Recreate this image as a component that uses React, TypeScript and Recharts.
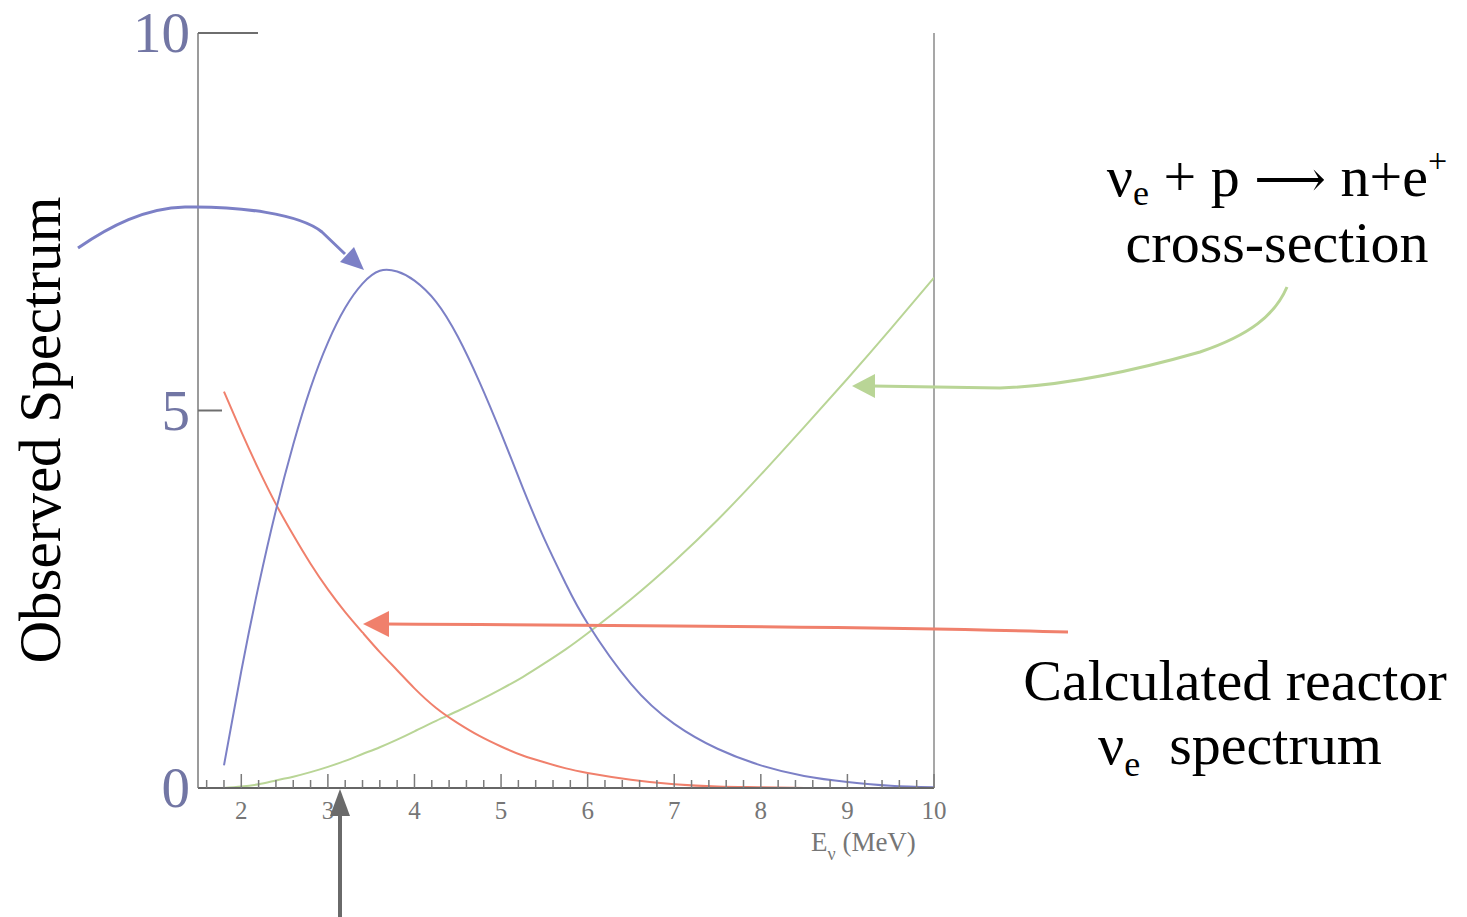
import React from "react"
import { CartesianGrid, Line, LineChart, ReferenceLine, XAxis, YAxis } from "recharts"

// energy grid (MeV) the curves are read at
const energy = [1.8, 2.0, 2.2, 2.4, 2.6, 2.8, 3.0, 3.2, 3.4, 3.6, 3.8, 4.0, 4.25, 4.5, 4.75, 5.0, 5.25, 5.5, 5.75, 6.0, 6.5, 7.0, 7.5, 8.0, 8.5, 9.0, 9.5, 10.0]

// observed spectrum (blue)
const observed = [0.3, 1.55, 2.68, 3.68, 4.55, 5.3, 5.9, 6.36, 6.68, 6.85, 6.84, 6.72, 6.44, 5.98, 5.38, 4.7, 3.98, 3.3, 2.7, 2.18, 1.38, 0.85, 0.52, 0.3, 0.16, 0.08, 0.03, 0.01]

// calculated reactor flux (red)
const reactorFlux = [5.25, 4.72, 4.22, 3.76, 3.35, 2.97, 2.63, 2.33, 2.06, 1.8, 1.56, 1.32, 1.06, 0.86, 0.69, 0.55, 0.43, 0.34, 0.26, 0.2, 0.11, 0.05, 0.02, 0.01, 0, 0, 0, 0]

// inverse beta decay cross-section (green)
const crossSection = [0, 0.02, 0.05, 0.1, 0.15, 0.21, 0.28, 0.36, 0.45, 0.54, 0.64, 0.75, 0.89, 1.02, 1.16, 1.31, 1.47, 1.65, 1.84, 2.05, 2.5, 3.0, 3.55, 4.15, 4.78, 5.42, 6.08, 6.76]

const xTicks = [1.6, 1.8, 2, 2.2, 2.4, 2.6, 2.8, 3, 3.2, 3.4, 3.6, 3.8, 4, 4.2, 4.4, 4.6, 4.8, 5, 5.2, 5.4, 5.6, 5.8, 6, 6.2, 6.4, 6.6, 6.8, 7, 7.2, 7.4, 7.6, 7.8, 8, 8.2, 8.4, 8.6, 8.8, 9, 9.2, 9.4, 9.6, 9.8, 10]
const yTicks = [0, 5, 10]

const data = energy.map((e, i) => ({
  e,
  observed: observed[i],
  reactor: reactorFlux[i],
  xsec: crossSection[i],
}))

const SERIF = '"Liberation Serif", "Times New Roman", "DejaVu Serif", serif'
const PLOT_LEFT = 198
const AXIS_Y = 788

const BLUE = "#7c80c6"
const RED = "#f0806c"
const GREEN = "#b9d596"

function XTick(props: any) {
  const { x, payload } = props
  const v = payload.value
  const major = Math.abs(v - Math.round(v)) < 1e-6
  return (
    <g>
      <line x1={x} x2={x} y1={AXIS_Y} y2={AXIS_Y - (major ? 14 : 8)} stroke="#7a7a7a" strokeWidth={1.5} />
      {major && (
        <text x={x} y={AXIS_Y + 31} textAnchor="middle" fontFamily={SERIF} fontSize={25} fill="#767676">
          {v}
        </text>
      )}
    </g>
  )
}

function YTick(props: any) {
  const { y, payload } = props
  const v = payload.value
  const len = v === 10 ? 60 : v === 5 ? 24 : 0
  return (
    <g>
      {len > 0 && <line x1={PLOT_LEFT} x2={PLOT_LEFT + len} y1={y} y2={y} stroke="#6e6e6e" strokeWidth={2} />}
      <text x={190} y={y + 19} textAnchor="end" fontFamily={SERIF} fontSize={57} fill="#7276a4">
        {v}
      </text>
    </g>
  )
}

function Annotations() {
  return (
    <svg width={1467} height={917} style={{ position: "absolute", left: 0, top: 0, pointerEvents: "none" }}>
      {/* blue arrow to the observed peak */}
      <path d="M 78 248 C 110 226, 145 208, 185 207 C 240 206, 300 214, 322 232 L 345 254" fill="none" stroke={BLUE} strokeWidth={3} />
      <polygon points="364,270 340,262 354,247" fill={BLUE} />
      {/* green arrow to the cross-section */}
      <path d="M 1287 287 C 1275 315, 1250 335, 1200 352 C 1130 372, 1060 386, 1000 388 L 872 386" fill="none" stroke={GREEN} strokeWidth={3} />
      <polygon points="852,386 875,374 875,398" fill={GREEN} />
      {/* red arrow to the reactor flux */}
      <path d="M 1068 632 C 900 627, 600 625, 385 624" fill="none" stroke={RED} strokeWidth={3} />
      <polygon points="363,624 389,611 389,637" fill={RED} />
      {/* threshold arrow */}
      <line x1={340} x2={340} y1={917} y2={812} stroke="#6a6a6a" strokeWidth={4} />
      <polygon points="340,789 330,816 350,816" fill="#6a6a6a" />

      <text transform="translate(60 430) rotate(-90)" textAnchor="middle" fontFamily={SERIF} fontSize={59} fill="#000">
        Observed Spectrum
      </text>

      <text x={1277} y={196} textAnchor="middle" fontFamily={SERIF} fontSize={58} fill="#000">
        <tspan>ν</tspan>
        <tspan dy={9} fontSize={36}>e</tspan>
        <tspan dy={-9}>{" + p "}</tspan>
        <tspan fontFamily='"DejaVu Serif", serif' fontSize={50}>⟶</tspan>
        <tspan>{" n+e"}</tspan>
        <tspan dy={-24} fontSize={34}>+</tspan>
      </text>
      <text x={1277} y={262} textAnchor="middle" fontFamily={SERIF} fontSize={58} fill="#000">
        cross-section
      </text>

      <text x={1235} y={700} textAnchor="middle" fontFamily={SERIF} fontSize={58} fill="#000">
        Calculated reactor
      </text>
      <text x={1240} y={764} textAnchor="middle" fontFamily={SERIF} fontSize={58} fill="#000">
        <tspan>ν</tspan>
        <tspan dy={12} fontSize={36}>e</tspan>
        <tspan dy={-12}>{"\u00A0\u00A0spectrum"}</tspan>
      </text>

      <text x={811} y={851} fontFamily={SERIF} fontSize={27} fill="#767676">
        <tspan>E</tspan>
        <tspan dy={9} fontSize={18}>ν</tspan>
        <tspan dy={-9}>{"\u00A0(MeV)"}</tspan>
      </text>
    </svg>
  )
}

export default function App() {
  return (
    <div style={{ position: "absolute", left: 0, top: 0, width: 1467, height: 917, background: "#fff" }}>
      <LineChart
        width={1467}
        height={917}
        data={data}
        margin={{ top: 33, right: 533, bottom: 69, left: 118 }}
      >
        <CartesianGrid horizontal={false} vertical={false} />
        <XAxis
          dataKey="e"
          type="number"
          domain={[1.5, 10]}
          allowDataOverflow
          ticks={xTicks}
          interval={0}
          height={60}
          tickLine={false}
          tick={<XTick />}
          axisLine={{ stroke: "#666", strokeWidth: 2 }}
        />
        <YAxis
          type="number"
          domain={[0, 10]}
          ticks={yTicks}
          interval={0}
          width={80}
          tickLine={false}
          tick={<YTick />}
          axisLine={{ stroke: "#7a7a7a", strokeWidth: 1.5 }}
        />
        <ReferenceLine x={10} stroke="#8a8a8a" strokeWidth={1.5} />
        <Line type="natural" dataKey="xsec" stroke={GREEN} strokeWidth={2} dot={false} isAnimationActive={false} />
        <Line type="natural" dataKey="reactor" stroke={RED} strokeWidth={2} dot={false} isAnimationActive={false} />
        <Line type="natural" dataKey="observed" stroke={BLUE} strokeWidth={2} dot={false} isAnimationActive={false} />
      </LineChart>
      <Annotations />
    </div>
  )
}
